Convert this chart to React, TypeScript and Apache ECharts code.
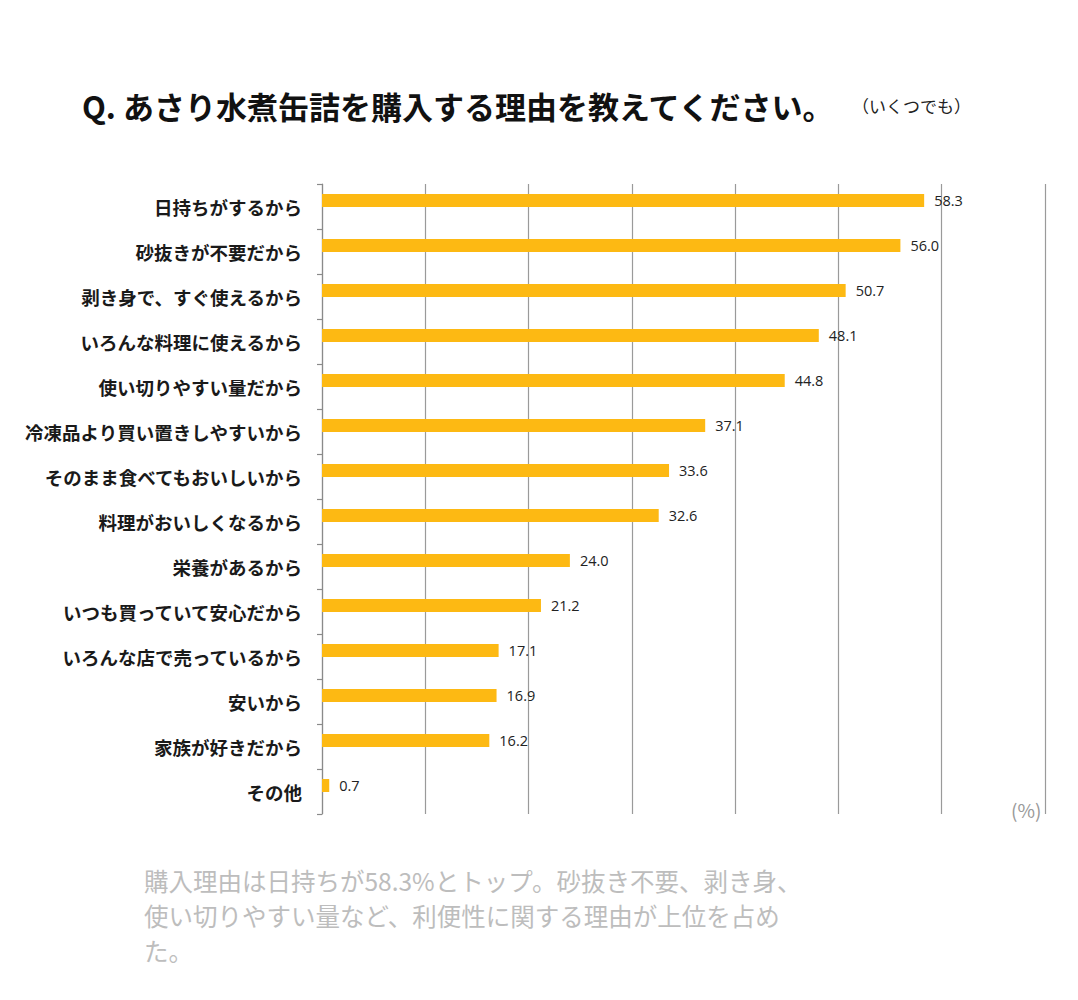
import React, { useEffect, useRef } from "react";
import * as echarts from "echarts";

const categories = [
  "日持ちがするから",
  "砂抜きが不要だから",
  "剥き身で、すぐ使えるから",
  "いろんな料理に使えるから",
  "使い切りやすい量だから",
  "冷凍品より買い置きしやすいから",
  "そのまま食べてもおいしいから",
  "料理がおいしくなるから",
  "栄養があるから",
  "いつも買っていて安心だから",
  "いろんな店で売っているから",
  "安いから",
  "家族が好きだから",
  "その他",
];
const values = [58.3, 56.0, 50.7, 48.1, 44.8, 37.1, 33.6, 32.6, 24.0, 21.2, 17.1, 16.9, 16.2, 0.7];

const titleText = "Q. あさり水煮缶詰を購入する理由を教えてください。";
const subtitleText = "（いくつでも）";
const unitText = "(%)";
const footerLines = [
  "購入理由は日持ちが58.3%とトップ。砂抜き不要、剥き身、",
  "使い切りやすい量など、利便性に関する理由が上位を占め",
  "た。",
];

const JP = "'Noto Sans CJK JP', 'Noto Sans', sans-serif";

export default function App() {
  const ref = useRef<HTMLDivElement>(null);
  useEffect(() => {
    document.body.style.margin = "0";
    const chart = echarts.init(ref.current!, null, { renderer: "svg" });
    chart.setOption({
      animation: false,
      backgroundColor: "#ffffff",
      grid: { left: 322, right: 33, top: 184, bottom: 186, containLabel: false },
      xAxis: {
        type: "value",
        min: 0,
        max: 70,
        interval: 10,
        axisLabel: { show: false },
        axisLine: { show: false },
        axisTick: { show: false },
        splitLine: { show: true, lineStyle: { color: "#9a9a9a", width: 1.2 } },
      },
      yAxis: {
        type: "category",
        data: categories,
        inverse: true,
        axisLine: { show: true, lineStyle: { color: "#8a8a8a", width: 1.2 } },
        axisTick: { show: true, length: 5, lineStyle: { color: "#8a8a8a", width: 1.2 } },
        axisLabel: {
          margin: 20,
          fontFamily: JP,
          fontSize: 18.5,
          fontWeight: "bold",
          color: "#1a1a1a",
        },
      },
      series: [
        {
          type: "bar",
          data: values,
          barWidth: 13,
          barGap: "-8%",
          itemStyle: { color: "#FDB913" },
          label: {
            show: true,
            position: "right",
            distance: 10,
            fontSize: 14.5,
            fontFamily: "'Open Sans', 'DejaVu Sans', sans-serif",
            color: "#222",
            formatter: (p: any) => Number(p.value).toFixed(1),
          },
        },
        {
          type: "bar",
          data: values.map(() => null),
          barWidth: 13,
          barGap: "-8%",
          silent: true,
          itemStyle: { color: "transparent" },
        },
      ],
      graphic: [
        {
          type: "text",
          left: 82,
          top: 90,
          style: {
            text: titleText,
            font: `bold 31px ${JP}`,
            fill: "#111",
          },
        },
        {
          type: "text",
          left: 852,
          top: 97,
          style: {
            text: subtitleText,
            font: `17px ${JP}`,
            fill: "#222",
          },
        },
        {
          type: "text",
          left: 1011,
          top: 800,
          style: {
            text: unitText,
            font: `19px ${JP}`,
            fill: "#999",
          },
        },
        {
          type: "text",
          left: 144,
          top: 863,
          style: {
            text: footerLines.join("\n"),
            font: `24.5px ${JP}`,
            lineHeight: 35,
            fill: "#bdbdbd",
          },
        },
      ],
    });
    return () => chart.dispose();
  }, []);
  return <div ref={ref} style={{ width: 1078, height: 1000 }} />;
}
